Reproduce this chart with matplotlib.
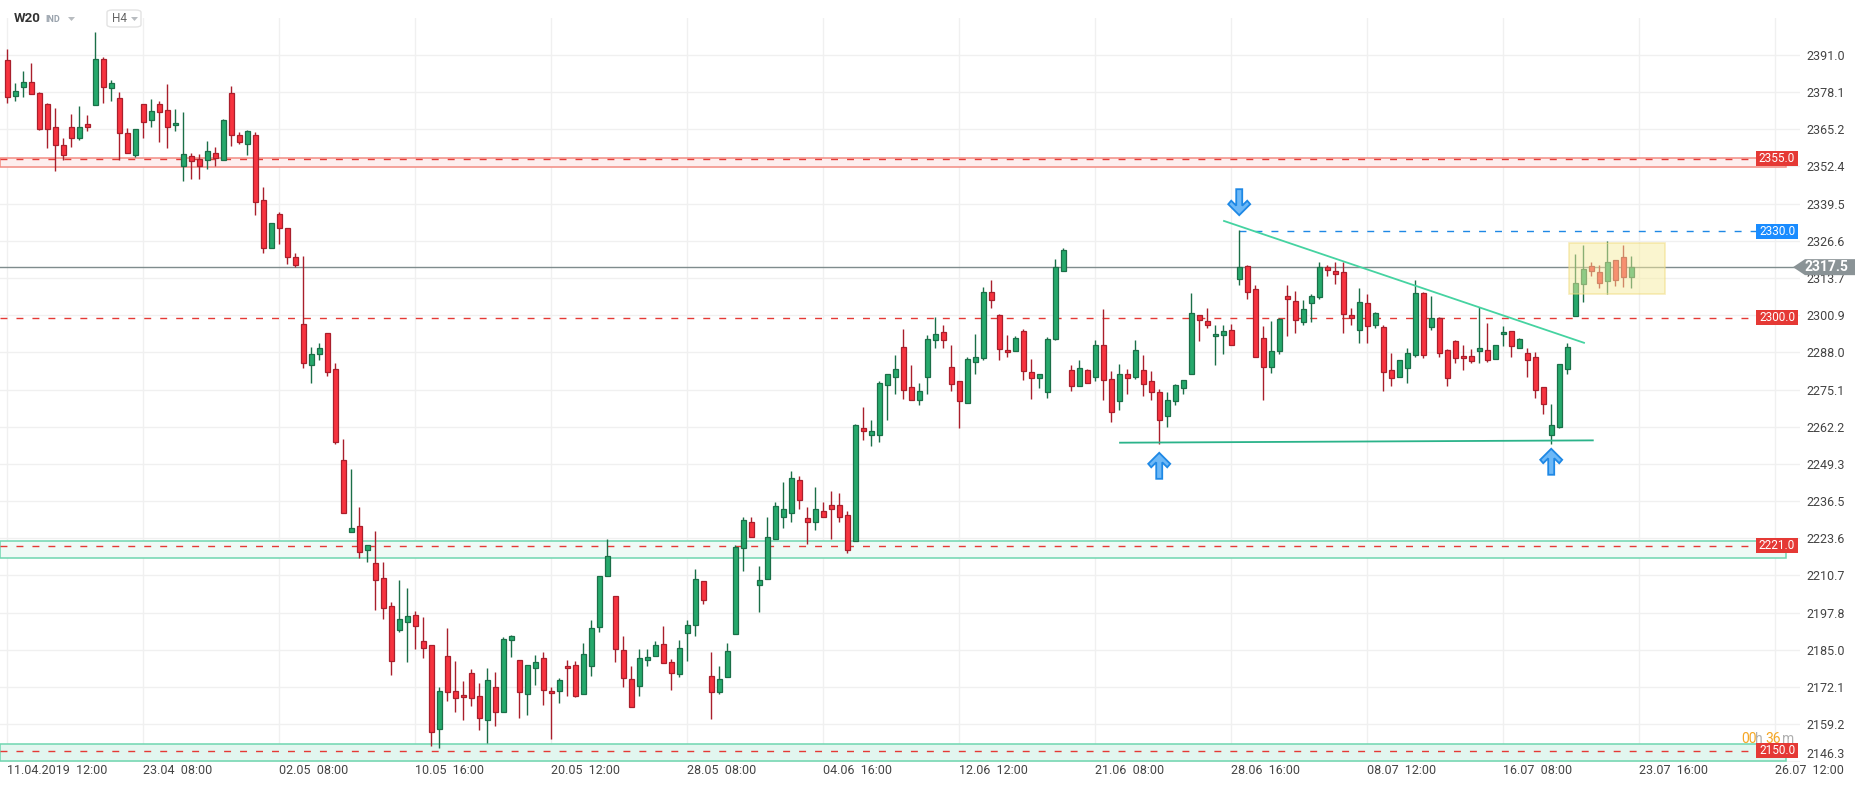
import numpy as np
import matplotlib.pyplot as plt
import matplotlib.transforms as mtransforms
from matplotlib.patches import Rectangle, Polygon, FancyBboxPatch

plt.rcParams['font.family'] = ['Roboto', 'DejaVu Sans']

W, H, DPI = 1866, 788, 100

# W20 index, H4 candles (11.04.2019 12:00 -> 23.07.2019 12:00)
opens = [2389.2, 2376.7, 2379.8, 2381.5, 2377.7, 2373.9, 2366.0, 2359.8, 2366.0, 2362.2,
         2367.0, 2373.6, 2389.5, 2379.4, 2376.0, 2363.9, 2356.5, 2373.9, 2368.4, 2373.9,
         2372.0, 2366.7, 2352.4, 2356.0, 2354.9, 2354.6, 2357.0, 2354.6, 2377.7, 2363.2,
         2360.3, 2363.2, 2340.7, 2324.1, 2335.9, 2331.1, 2321.0, 2297.9, 2283.7, 2287.5,
         2294.8, 2282.1, 2250.8, 2225.6, 2227.7, 2219.4, 2214.9, 2209.7, 2200.0, 2191.7,
         2194.5, 2196.9, 2187.9, 2186.5, 2157.5, 2182.7, 2170.6, 2169.3, 2176.8, 2168.9,
         2160.6, 2172.0, 2163.5, 2188.2, 2181.3, 2169.6, 2178.6, 2182.0, 2170.6, 2170.6,
         2179.2, 2179.6, 2169.6, 2179.2, 2192.7, 2210.4, 2203.5, 2184.9, 2174.8, 2172.4,
         2181.4, 2182.7, 2186.9, 2180.7, 2176.5, 2190.7, 2193.5, 2208.7, 2175.8, 2170.3,
         2175.5, 2190.3, 2220.2, 2229.1, 2207.3, 2209.4, 2223.2, 2230.8, 2232.5, 2243.9,
         2230.5, 2229.1, 2232.9, 2235.0, 2235.0, 2231.8, 2222.5, 2261.9, 2259.2, 2259.5,
         2276.8, 2279.6, 2290.0, 2276.1, 2271.6, 2279.6, 2292.4, 2295.1, 2283.0, 2277.9,
         2270.6, 2284.8, 2286.2, 2309.0, 2301.0, 2288.9, 2288.6, 2295.5, 2281.3, 2279.2,
         2274.4, 2292.7, 2316.2, 2282.0, 2276.5, 2282.0, 2279.6, 2290.7, 2278.9, 2271.3,
         2280.6, 2279.6, 2282.0, 2278.2, 2274.1, 2266.1, 2271.3, 2275.8, 2280.6, 2301.0,
         2299.0, 2293.8, 2294.1, 2295.8, 2313.5, 2318.0, 2310.0, 2293.1, 2283.0, 2288.6,
         2307.6, 2305.9, 2298.6, 2305.2, 2307.2, 2317.6, 2316.2, 2315.9, 2301.0, 2295.8,
         2305.2, 2297.6, 2296.9, 2282.0, 2279.6, 2282.7, 2287.2, 2308.6, 2296.9, 2300.0,
         2288.9, 2292.0, 2286.8, 2286.8, 2288.6, 2288.9, 2285.8, 2294.4, 2295.5, 2289.6,
         2287.9, 2286.5, 2276.1, 2259.5, 2262.2, 2282.3, 2300.6, 2311.7, 2318.0, 2315.9,
         2312.8, 2320.0, 2321.1, 2314.2]
highs = [2393.1, 2381.3, 2385.5, 2388.2, 2378.1, 2374.4, 2372.7, 2362.3, 2370.6, 2373.4,
         2370.3, 2398.9, 2390.2, 2382.2, 2378.2, 2365.8, 2365.3, 2373.9, 2375.8, 2375.1,
         2381.0, 2372.3, 2371.3, 2357.0, 2356.7, 2361.3, 2359.2, 2368.9, 2380.3, 2364.3,
         2365.1, 2364.3, 2345.4, 2332.8, 2336.5, 2331.1, 2322.4, 2321.5, 2290.0, 2291.4,
         2294.8, 2284.4, 2258.1, 2247.5, 2234.3, 2221.4, 2226.0, 2215.3, 2201.4, 2209.1,
         2206.3, 2198.3, 2196.2, 2186.5, 2172.0, 2192.5, 2181.0, 2174.2, 2178.3, 2173.5,
         2178.6, 2177.3, 2189.3, 2190.1, 2181.3, 2179.6, 2183.0, 2184.1, 2172.0, 2175.1,
         2181.3, 2181.0, 2187.2, 2195.2, 2210.4, 2223.5, 2203.5, 2189.7, 2179.3, 2185.3,
         2185.3, 2187.9, 2193.1, 2181.8, 2188.4, 2195.2, 2212.9, 2208.7, 2184.1, 2179.3,
         2187.2, 2221.1, 2231.1, 2231.1, 2213.9, 2231.1, 2236.3, 2243.2, 2247.0, 2245.3,
         2234.3, 2241.5, 2236.0, 2240.1, 2239.4, 2233.2, 2263.1, 2269.2, 2264.4, 2278.2,
         2280.6, 2287.2, 2296.2, 2283.7, 2277.3, 2293.9, 2300.4, 2297.3, 2290.4, 2278.2,
         2286.5, 2294.4, 2310.7, 2312.9, 2301.4, 2293.9, 2293.8, 2296.2, 2285.8, 2280.6,
         2293.4, 2320.4, 2324.2, 2283.7, 2285.5, 2282.3, 2292.4, 2302.9, 2281.7, 2284.1,
         2282.3, 2292.4, 2287.2, 2281.7, 2275.4, 2274.4, 2277.2, 2278.5, 2308.4, 2301.0,
         2303.4, 2297.6, 2297.6, 2297.7, 2330.4, 2318.3, 2311.4, 2297.2, 2299.0, 2300.0,
         2311.4, 2309.3, 2306.2, 2308.3, 2319.3, 2318.3, 2319.3, 2319.3, 2303.2, 2310.4,
         2308.3, 2302.1, 2297.6, 2287.9, 2285.5, 2289.6, 2312.9, 2309.0, 2307.6, 2300.3,
         2289.3, 2292.4, 2290.7, 2289.3, 2303.8, 2298.3, 2290.7, 2297.1, 2295.5, 2293.1,
         2289.4, 2288.2, 2276.1, 2270.2, 2284.1, 2291.3, 2321.9, 2325.3, 2319.3, 2318.3,
         2326.6, 2320.0, 2325.2, 2321.4]
lows = [2374.5, 2375.2, 2376.6, 2377.4, 2365.1, 2358.6, 2350.7, 2354.6, 2359.0, 2361.4,
        2364.8, 2373.6, 2374.5, 2374.9, 2354.7, 2357.0, 2355.5, 2362.4, 2366.2, 2360.8,
        2358.6, 2364.5, 2347.2, 2348.2, 2348.2, 2351.4, 2352.4, 2354.6, 2359.3, 2360.3,
        2356.2, 2335.4, 2322.3, 2324.1, 2325.5, 2318.5, 2317.5, 2282.5, 2277.3, 2285.3,
        2279.8, 2256.4, 2232.5, 2225.6, 2216.7, 2215.4, 2198.6, 2195.7, 2176.4, 2191.2,
        2180.9, 2185.4, 2182.2, 2151.5, 2151.1, 2167.4, 2163.3, 2160.8, 2165.4, 2157.3,
        2152.6, 2158.7, 2163.5, 2182.4, 2161.5, 2162.3, 2172.7, 2166.0, 2154.2, 2166.5,
        2168.9, 2168.5, 2169.6, 2175.8, 2191.3, 2210.4, 2180.6, 2172.2, 2165.1, 2169.1,
        2179.3, 2182.7, 2180.3, 2171.2, 2175.5, 2181.0, 2189.6, 2200.7, 2161.0, 2169.6,
        2175.5, 2190.3, 2212.4, 2224.2, 2198.0, 2209.4, 2223.2, 2227.3, 2229.4, 2233.6,
        2221.5, 2226.3, 2230.8, 2223.5, 2229.4, 2218.4, 2222.5, 2257.8, 2255.6, 2256.8,
        2264.4, 2273.7, 2272.0, 2271.6, 2269.8, 2273.6, 2289.5, 2289.5, 2274.5, 2261.8,
        2270.6, 2280.6, 2285.5, 2303.4, 2285.3, 2286.5, 2288.6, 2278.4, 2272.0, 2275.8,
        2272.3, 2292.4, 2316.2, 2274.7, 2276.5, 2277.5, 2278.2, 2271.5, 2263.7, 2268.1,
        2273.7, 2278.9, 2273.0, 2271.6, 2256.1, 2262.3, 2269.6, 2273.7, 2280.6, 2292.0,
        2296.5, 2283.7, 2287.4, 2290.7, 2311.4, 2306.6, 2286.5, 2271.5, 2281.0, 2287.5,
        2293.8, 2294.8, 2297.6, 2298.6, 2306.6, 2314.5, 2311.7, 2294.8, 2297.6, 2291.3,
        2291.3, 2296.5, 2274.7, 2276.5, 2279.6, 2277.5, 2286.5, 2286.2, 2295.8, 2286.5,
        2276.5, 2284.4, 2282.0, 2284.4, 2284.4, 2284.8, 2285.8, 2290.3, 2286.5, 2289.6,
        2279.6, 2272.3, 2266.8, 2256.4, 2261.8, 2280.6, 2300.6, 2305.5, 2314.5, 2310.4,
        2308.3, 2311.0, 2310.7, 2310.4]
closes = [2376.4, 2378.5, 2381.5, 2377.4, 2365.5, 2365.3, 2359.8, 2356.3, 2362.2, 2366.0,
          2366.0, 2389.5, 2380.0, 2381.2, 2364.1, 2357.0, 2365.3, 2367.7, 2371.5, 2371.2,
          2366.2, 2367.4, 2356.7, 2354.2, 2352.4, 2357.7, 2355.2, 2368.5, 2363.2, 2360.7,
          2364.6, 2340.1, 2324.1, 2332.8, 2331.1, 2321.0, 2318.3, 2284.4, 2287.5, 2289.6,
          2281.3, 2257.0, 2232.5, 2227.3, 2219.0, 2221.4, 2209.3, 2199.5, 2181.0, 2195.5,
          2196.5, 2193.1, 2185.5, 2156.4, 2170.6, 2170.3, 2168.2, 2168.5, 2168.2, 2161.3,
          2174.4, 2163.5, 2188.6, 2189.6, 2170.3, 2179.6, 2180.6, 2170.9, 2169.9, 2174.4,
          2178.6, 2168.9, 2183.4, 2192.4, 2210.4, 2217.3, 2185.1, 2175.1, 2165.1, 2182.0,
          2182.4, 2186.5, 2180.3, 2176.9, 2185.5, 2193.5, 2209.4, 2202.1, 2170.3, 2174.8,
          2184.5, 2220.4, 2229.8, 2224.2, 2209.0, 2223.9, 2234.6, 2233.9, 2244.6, 2236.7,
          2229.1, 2233.6, 2231.1, 2233.9, 2231.1, 2219.4, 2262.7, 2260.6, 2260.9, 2277.5,
          2280.6, 2282.3, 2275.1, 2271.6, 2274.7, 2292.7, 2294.4, 2292.4, 2277.2, 2271.3,
          2285.8, 2286.5, 2309.0, 2306.2, 2289.3, 2288.2, 2293.1, 2281.7, 2279.2, 2280.6,
          2292.7, 2317.6, 2323.5, 2276.5, 2282.7, 2277.5, 2290.7, 2278.5, 2267.5, 2280.6,
          2279.2, 2288.9, 2277.2, 2274.4, 2264.4, 2271.6, 2276.8, 2278.5, 2301.7, 2299.3,
          2297.6, 2294.4, 2295.5, 2290.7, 2317.6, 2309.0, 2286.5, 2283.0, 2288.6, 2299.6,
          2306.6, 2299.3, 2303.1, 2307.6, 2317.6, 2316.6, 2315.2, 2301.4, 2300.0, 2305.5,
          2297.2, 2301.7, 2281.3, 2279.2, 2285.5, 2287.9, 2308.6, 2287.2, 2300.0, 2287.9,
          2279.2, 2286.2, 2286.2, 2285.1, 2289.6, 2285.5, 2290.7, 2295.1, 2290.3, 2292.7,
          2285.5, 2275.1, 2270.2, 2263.0, 2284.1, 2290.0, 2312.1, 2316.9, 2316.2, 2312.1,
          2319.3, 2313.1, 2314.2, 2317.5]

price_ticks = [2391.0, 2378.1, 2365.2, 2352.4, 2339.5, 2326.6, 2313.7, 2300.9, 2288.0, 2275.1,
               2262.2, 2249.3, 2236.5, 2223.6, 2210.7, 2197.8, 2185.0, 2172.1, 2159.2, 2146.3]
date_labels = ['11.04.2019  12:00', '23.04  08:00', '02.05  08:00', '10.05  16:00',
               '20.05  12:00', '28.05  08:00', '04.06  16:00', '12.06  12:00',
               '21.06  08:00', '28.06  16:00', '08.07  12:00', '16.07  08:00',
               '23.07  16:00', '26.07  12:00']
date_step = 17

# drawn levels and zones
red_levels = [2355.0, 2300.0]
blue_level = 2330.0
blue_start = 154
zones = [(2352.2, 2355.3, '#fdeeee', '#f28b82'),
         (2216.6, 2222.5, '#effaf6', '#6fd6b0'),
         (2146.3, 2152.2, '#e2f6ef', '#6fd6b0')]
zone_labels = [(2355.0, '2355.0'), (2221.0, '2221.0'), (2150.0, '2150.0')]
trend_down = ([152.1, 197.1], [2333.5, 2291.3])
support = ([139.1, 198.2], [2256.7, 2257.5])
up_arrows = [(144, 2253.2), (193, 2254.6)]
down_arrow = (154, 2335.5)
box = (195.25, 207.25, 2308.3, 2325.9)

fig = plt.figure(figsize=(W / DPI, H / DPI), dpi=DPI)
ax = fig.add_axes([0, 26 / H, 1800 / W, 744 / H])
x0, x1 = -0.91, 224.1
ax.set_xlim(x0, x1)
ax.set_ylim(2146.1, 2403.8)
for s in ax.spines.values():
    s.set_visible(False)

ax.set_axisbelow(True)
ax.grid(True, color='#f0f0f0', lw=1)
ax.yaxis.tick_right()
ax.set_yticks(price_ticks)
ax.set_yticklabels([f'{t:.1f}' for t in price_ticks])
ax.tick_params(axis='y', length=0, pad=4.5, labelsize=9, labelcolor='#444444')
ax.get_yticklabels()[-1].set_verticalalignment('bottom')
ax.set_xticks(np.arange(len(date_labels)) * date_step)
ax.set_xticklabels(date_labels, ha='left')
ax.tick_params(axis='x', length=0, pad=1.5, labelsize=9, labelcolor='#444444')

lab_left = (1756 - 7.3) / 8
zone_right = (1785.7 - 7.3) / 8
for lo, hi, fc, ec in zones:
    ax.add_patch(Rectangle((x0, lo), zone_right - x0, hi - lo, fc=fc, ec=ec, lw=1.1, zorder=1))

dash = (0, (5, 6.5))
for lv in red_levels + [2221.0, 2150.0]:
    ax.hlines(lv, x0, lab_left, colors='#e53935', lw=1, linestyles=[dash], zorder=2)
ax.hlines(blue_level, blue_start, lab_left, colors='#1e88e5', lw=1, linestyles=[dash], zorder=2)

# candles
idx = np.arange(len(opens))
o, h, l, c = map(np.array, (opens, highs, lows, closes))
up = c >= o
fill = np.where(up, '#26a96c', '#f7333f')
edge = np.where(up, '#1b6f48', '#a91f2c')
ax.vlines(idx, l, h, colors=edge, lw=1.0, zorder=3)
body = np.maximum(np.abs(c - o), 0.4)
ax.bar(idx, body, bottom=np.minimum(o, c), width=0.62, color=fill, edgecolor=edge, linewidth=0.9, zorder=4)

last = closes[-1]
ax.axhline(last, color='#7f8c8d', lw=1, zorder=2)

ax.plot(*trend_down, color='#45d3a1', lw=1.3, zorder=5)
ax.plot(*support, color='#2bb38a', lw=1.3, zorder=5)

bx0, bx1, by0, by1 = box
ax.add_patch(Rectangle((bx0, by0), bx1 - bx0, by1 - by0, fc='#f7eda0', alpha=0.5, ec='#efd97a', lw=1.2, zorder=6))


def arrow(x, y, down=False):
    pts = np.array([(0, 0), (11, -11), (8, -14.5), (3, -9.5), (3, -26), (-3, -26),
                    (-3, -9.5), (-8, -14.5), (-11, -11)]) / DPI
    if down:
        pts[:, 1] *= -1
    tr = fig.dpi_scale_trans + mtransforms.ScaledTranslation(x, y, ax.transData)
    ax.add_patch(Polygon(pts, closed=True, transform=tr, fc='#6cb8f7', ec='#1e88e5', lw=1.3, zorder=9))


for ux, uy in up_arrows:
    arrow(ux, uy)
arrow(*down_arrow, down=True)

# price tags on the right
bt = mtransforms.blended_transform_factory(ax.transAxes, ax.transData)


def tag(price, text, color):
    ax.add_patch(Rectangle((1756 / 1800, price - 2.6), 42 / 1800, 5.2, transform=bt,
                           fc=color, ec='none', zorder=8, clip_on=False))
    ax.text(1777 / 1800, price, text, transform=bt, color='white', fontsize=8.5,
            ha='center', va='center', zorder=9)


for p, t in zone_labels:
    tag(p, t, '#e53935')
tag(2300.0, '2300.0', '#e53935')
tag(blue_level, '2330.0', '#1a8cff')

ax.add_patch(Polygon([(1793 / 1800, last), (1805 / 1800, last + 2.77), (1855 / 1800, last + 2.77),
                      (1855 / 1800, last - 2.77), (1805 / 1800, last - 2.77)],
                     closed=True, transform=bt, fc='#8a9396', ec='none', zorder=10, clip_on=False))
ax.text(1826 / 1800, last, f'{last:.1f}', transform=bt, color='white', fontsize=10,
        fontweight='bold', ha='center', va='center', zorder=11)

# header
fig.text(14 / W, 1 - 19 / H, 'W20', fontsize=9.5, fontweight='bold', color='#333333', va='center')
fig.text(45.5 / W, 1 - 19 / H, 'IND', fontsize=6.5, fontweight='bold', color='#9aa3ad', va='center')
fig.patches.append(Polygon([(68 / W, 1 - 17 / H), (75 / W, 1 - 17 / H), (71.5 / W, 1 - 21 / H)],
                           closed=True, transform=fig.transFigure, fc='#b8bcc0', ec='none'))
fig.patches.append(FancyBboxPatch((107 / W, 1 - 27 / H), 34 / W, 17 / H, boxstyle='round,pad=0,rounding_size=0.003',
                                  transform=fig.transFigure, fc='white', ec='#e3e3e3', lw=1))
fig.text(112 / W, 1 - 19 / H, 'H4', fontsize=8.5, color='#666666', va='center')
fig.patches.append(Polygon([(131 / W, 1 - 17 / H), (138 / W, 1 - 17 / H), (134.5 / W, 1 - 21 / H)],
                           closed=True, transform=fig.transFigure, fc='#b8bcc0', ec='none'))

# countdown
cy = 1 - 739 / H
for xp, s, col in [(1741, '00', '#f5a623'), (1755, 'h', '#b0b0b0'), (1765, '36', '#f5a623'), (1782, 'm', '#b0b0b0')]:
    fig.text(xp / W, cy, s, fontsize=10, color=col, va='center', ha='left')

fig.savefig('out.png', dpi=DPI)
